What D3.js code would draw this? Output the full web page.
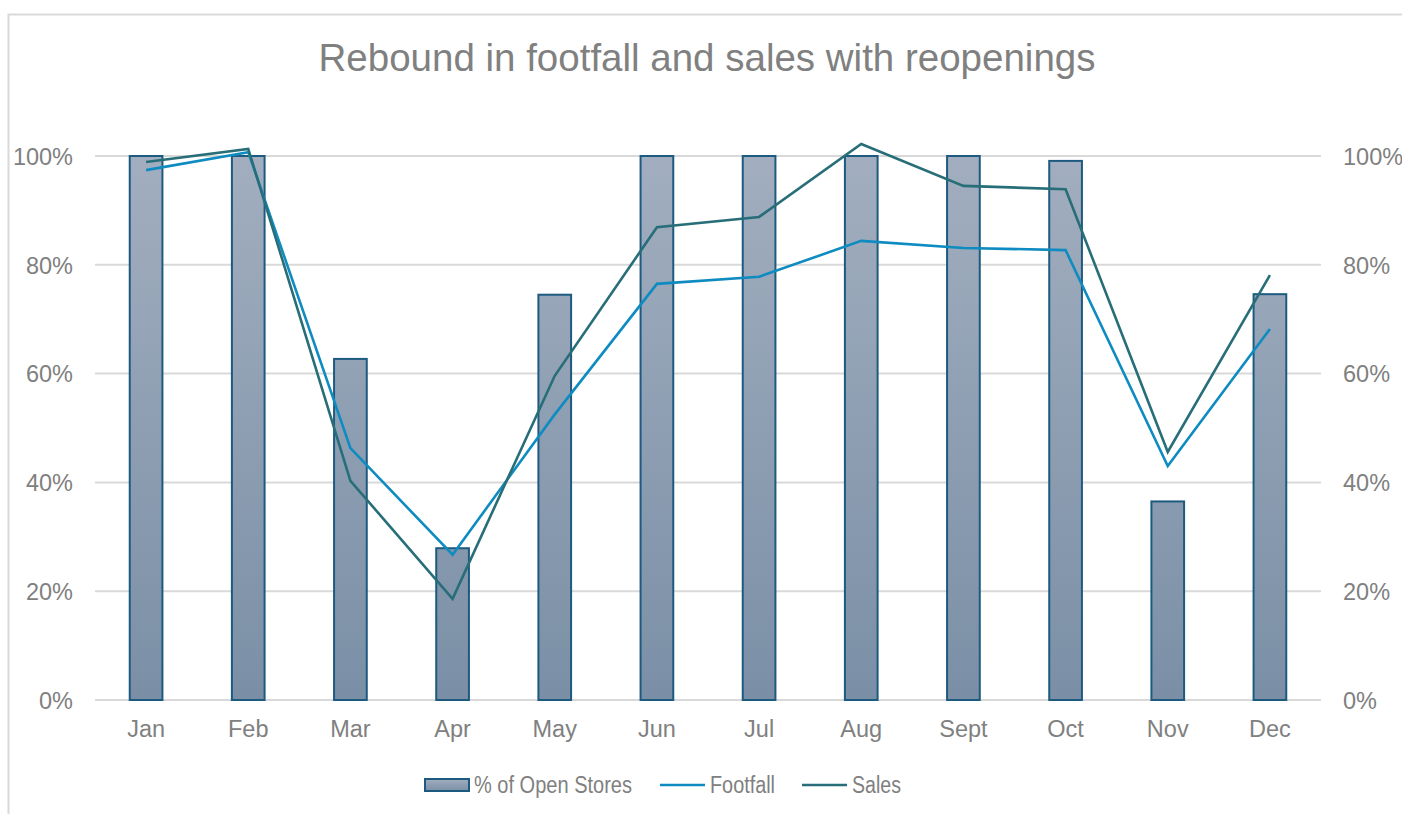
<!DOCTYPE html>
<html>
<head>
<meta charset="utf-8">
<script src="https://cdn.jsdelivr.net/npm/d3@7"></script>
<style>
  body { margin: 0; background: #fff; }
  svg { display: block; font-family: "Liberation Sans", Arial, sans-serif; }
</style>
</head>
<body>
<svg id="chart" width="1402" height="814"></svg>
<script>
// chart data
const months    = ["Jan", "Feb", "Mar", "Apr", "May", "Jun", "Jul", "Aug", "Sept", "Oct", "Nov", "Dec"]
const openStores = [100, 100, 62.7, 27.9, 74.5, 100, 100, 100, 100, 99.1, 36.5, 74.6]
const footfall  = [97.4, 100.7, 46.3, 26.7, 52.5, 76.5, 77.8, 84.4, 83.1, 82.7, 43.0, 68.2]
const sales     = [98.9, 101.3, 40.3, 18.6, 59.6, 86.9, 88.8, 102.2, 94.5, 93.9, 45.6, 78.1]
const yTicks    = [0, 20, 40, 60, 80, 100]

const W = 1402, H = 814
const m = {left: 95, right: 81, top: 156, bottom: 114}

const svg = d3.select("#chart")
const grey = "#808080"

// outer chart frame
svg.append("rect")
   .attr("x", 8.5).attr("y", 14.5)
   .attr("width", W + 20).attr("height", H + 20)
   .attr("fill", "none").attr("stroke", "#d9d9d9").attr("stroke-width", 2)

svg.append("text")
   .attr("x", 707).attr("y", 71)
   .attr("text-anchor", "middle")
   .attr("font-size", 38.5).attr("fill", grey)
   .text("Rebound in footfall and sales with reopenings")

const x = d3.scaleBand()
	.domain(months)
	.range([m.left, W - m.right])
	.paddingInner(0.68).paddingOuter(0.34)

const y = d3.scaleLinear()
	.domain([0, 100])
	.range([H - m.bottom, m.top])

// gridlines
svg.append("g")
   .selectAll("line")
   .data(yTicks)
   .join("line")
   .attr("x1", m.left).attr("x2", W - m.right)
   .attr("y1", d => y(d)).attr("y2", d => y(d))
   .attr("stroke", "#d9d9d9").attr("stroke-width", 2)

// left + right axes, no domain path
const fmt = d => d + "%"
const axL = svg.append("g")
   .attr("transform", `translate(${m.left},0)`)
   .call(d3.axisLeft(y).tickValues(yTicks).tickFormat(fmt).tickSize(0).tickPadding(22))
const axR = svg.append("g")
   .attr("transform", `translate(${W - m.right},0)`)
   .call(d3.axisRight(y).tickValues(yTicks).tickFormat(fmt).tickSize(0).tickPadding(22))
const axB = svg.append("g")
   .attr("transform", `translate(0,${H - m.bottom})`)
   .call(d3.axisBottom(x).tickSize(0).tickPadding(20))

;[axL, axR, axB].forEach(function(a){
	a.select(".domain").remove()
	a.selectAll("text").attr("font-size", 23.5).attr("fill", grey)
	  .attr("font-family", "Liberation Sans, Arial, sans-serif")
})
axL.selectAll("text").attr("dy", "0.35em")
axR.selectAll("text").attr("dy", "0.35em")

// bar gradient
const defs = svg.append("defs")
const grad = defs.append("linearGradient")
	.attr("id", "barGrad").attr("x1", 0).attr("y1", 0).attr("x2", 0).attr("y2", 1)
	.attr("gradientUnits", "userSpaceOnUse")
	.attr("y1", y(100)).attr("y2", y(0))
grad.append("stop").attr("offset", "0%").attr("stop-color", "#a2aebf")
grad.append("stop").attr("offset", "100%").attr("stop-color", "#7a8fa6")

svg.append("g")
   .selectAll("rect")
   .data(openStores)
   .join("rect")
   .attr("x", (d, i) => x(months[i]))
   .attr("y", d => y(d))
   .attr("width", x.bandwidth())
   .attr("height", d => y(0) - y(d))
   .attr("fill", "url(#barGrad)")
   .attr("stroke", "#1d5a80").attr("stroke-width", 2)

const line = d3.line()
	.x((d, i) => x(months[i]) + x.bandwidth() / 2)
	.y(d => y(d))

svg.append("path").datum(footfall)
   .attr("d", line).attr("fill", "none")
   .attr("stroke", "#0e8bc0").attr("stroke-width", 2.6)

svg.append("path").datum(sales)
   .attr("d", line).attr("fill", "none")
   .attr("stroke", "#276e78").attr("stroke-width", 2.6)

// legend - text is a bit squeezed in the original, hence textLength
const lgGrad = defs.append("linearGradient").attr("id", "legGrad")
	.attr("x1", 0).attr("y1", 0).attr("x2", 0).attr("y2", 1)
lgGrad.append("stop").attr("offset", "0%").attr("stop-color", "#a2aebf")
lgGrad.append("stop").attr("offset", "100%").attr("stop-color", "#7a8fa6")

const lg = svg.append("g").attr("font-size", 23.5).attr("fill", grey)
lg.append("rect").attr("x", 425).attr("y", 779).attr("width", 44).attr("height", 12)
  .attr("fill", "url(#legGrad)").attr("stroke", "#1d5a80").attr("stroke-width", 2)
lg.append("text").attr("x", 474).attr("y", 793)
  .attr("textLength", 158).attr("lengthAdjust", "spacingAndGlyphs").text("% of Open Stores")

lg.append("line").attr("x1", 660).attr("x2", 705).attr("y1", 785).attr("y2", 785)
  .attr("stroke", "#0e8bc0").attr("stroke-width", 2.6)
lg.append("text").attr("x", 710).attr("y", 793)
  .attr("textLength", 65).attr("lengthAdjust", "spacingAndGlyphs").text("Footfall")

lg.append("line").attr("x1", 802).attr("x2", 847).attr("y1", 785).attr("y2", 785)
  .attr("stroke", "#276e78").attr("stroke-width", 2.6)
lg.append("text").attr("x", 852).attr("y", 793)
  .attr("textLength", 49).attr("lengthAdjust", "spacingAndGlyphs").text("Sales")
</script>
</body>
</html>
